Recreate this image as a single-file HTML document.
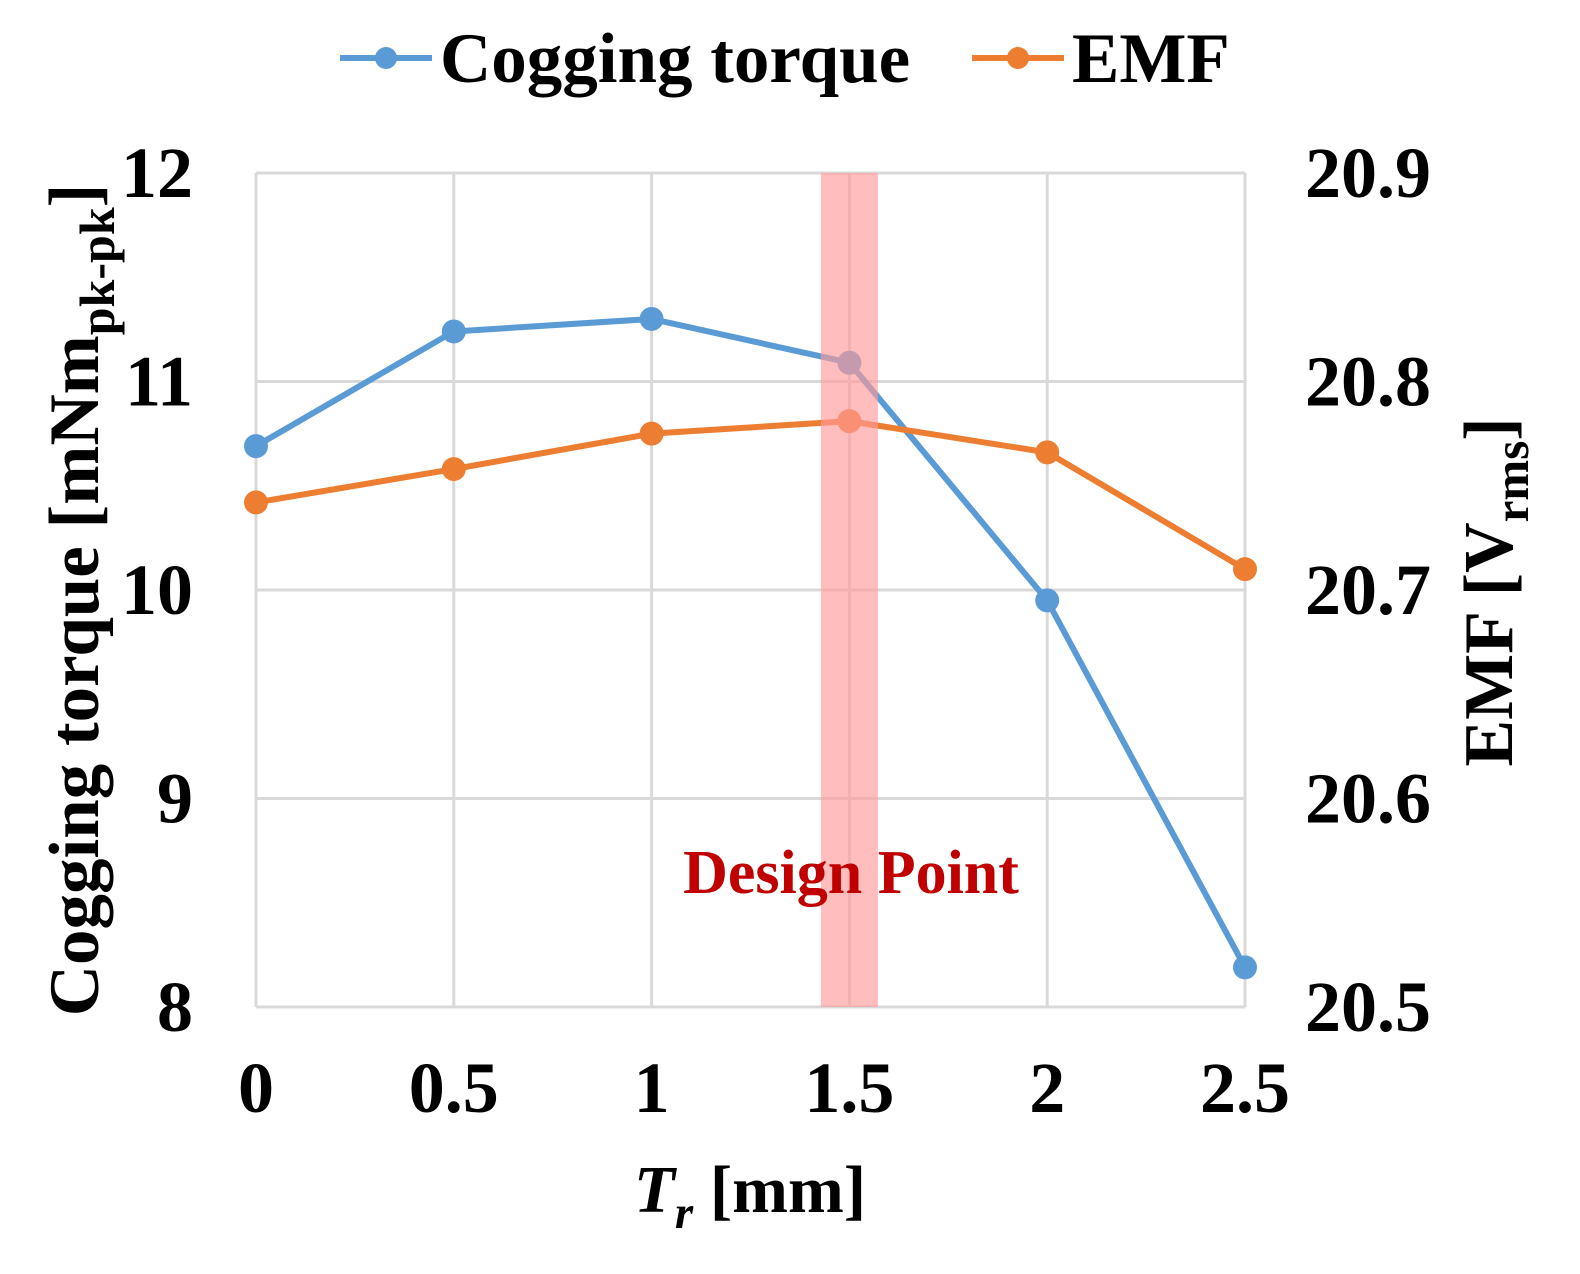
<!DOCTYPE html>
<html><head><meta charset="utf-8"><style>
html,body{margin:0;padding:0;background:#fff;}
svg{display:block;font-family:"Liberation Serif",serif;font-weight:bold;}
</style></head><body>
<svg id="chart" width="1580" height="1274" viewBox="0 0 1580 1274">
<g id="grid"></g>
<rect id="band" fill="#ff9a9a" fill-opacity="0.65"></rect>
<g id="series"></g>
<g id="ticks"></g>
<text x="851" y="893" font-size="62" fill="#c00000" text-anchor="middle">Design Point</text>
<text transform="translate(98,600) rotate(-90)" font-size="71" text-anchor="middle">Cogging torque [mNm<tspan font-size="50" dy="16">pk-pk</tspan><tspan dy="-16">]</tspan></text>
<text transform="translate(1512,592) rotate(-90)" font-size="70" text-anchor="middle">EMF [V<tspan font-size="49" dy="16">rms</tspan><tspan dy="-16">]</tspan></text>
<text x="750" y="1212" font-size="67" text-anchor="middle"><tspan font-style="italic">T<tspan font-size="47" dy="16">r</tspan></tspan><tspan dy="-16"> [mm]</tspan></text>
<g>
<line x1="340" y1="58" x2="432" y2="58" stroke="#5b9bd5" stroke-width="6"/>
<circle cx="386" cy="58" r="11" fill="#5b9bd5"/>
<text x="440" y="82" font-size="71">Cogging torque</text>
<line x1="972" y1="58" x2="1064" y2="58" stroke="#ed7d31" stroke-width="6"/>
<circle cx="1018" cy="58" r="11" fill="#ed7d31"/>
<text x="1072" y="82" font-size="71">EMF</text>
</g>
</svg>
<script>
const xCats=[0,0.5,1,1.5,2,2.5];
const xLabels=["0","0.5","1","1.5","2","2.5"];
const cogging=[10.69,11.24,11.30,11.09,9.95,8.19];
const emf=[20.742,20.758,20.775,20.781,20.766,20.710];
const leftTicks=[8,9,10,11,12];
const rightTicks=["20.5","20.6","20.7","20.8","20.9"];
const designX=1.5;
const X0=256,X1=1245,Y0=1007,Y1=173;
const xs=v=>X0+(v-0)/(2.5-0)*(X1-X0);
const yl=v=>Y0-(v-8)/(12-8)*(Y0-Y1);
const yr=v=>Y0-(v-20.5)/(20.9-20.5)*(Y0-Y1);
const NS="http://www.w3.org/2000/svg";
function mk(t,a,p){const e=document.createElementNS(NS,t);for(const k in a)e.setAttribute(k,a[k]);p.appendChild(e);return e;}
const grid=document.getElementById('grid'),ticks=document.getElementById('ticks'),ser=document.getElementById('series');
xCats.forEach((c,i)=>{
 const l=mk('line',{x1:xs(c),x2:xs(c),y1:Y1,y2:Y0,stroke:'#d9d9d9','stroke-width':3},grid);
 
 
 const t=mk('text',{x:xs(c),y:1112,'font-size':72,'text-anchor':'middle'},ticks);t.textContent=xLabels[i];
 
 
});
leftTicks.forEach((v,i)=>{
 const l=mk('line',{x1:X0,x2:X1,y1:yl(v),y2:yl(v),stroke:'#d9d9d9','stroke-width':3},grid);
 
 
 const t=mk('text',{x:193,y:yl(v)+24,'font-size':72,'text-anchor':'end'},ticks);t.textContent=v;
 
 
 const r=mk('text',{x:1305,y:yr(parseFloat(rightTicks[i]))+24,'font-size':72},ticks);r.textContent=rightTicks[i];
 
 
});
const band=document.getElementById('band');
const bw=57;
band.setAttribute('x',xs(designX)-bw/2);band.setAttribute('width',bw);band.setAttribute('y',Y1);band.setAttribute('height',Y0-Y1);
function draw(vals,yf,col,name){
 const pl=mk('polyline',{points:vals.map((v,i)=>xs(xCats[i])+','+yf(v)).join(' '),fill:'none',stroke:col,'stroke-width':6,'stroke-linejoin':'round'},ser);
 
 
 vals.forEach((v,i)=>{const c=mk('circle',{cx:xs(xCats[i]),cy:yf(v),r:12,fill:col},ser);
  
  });
}
draw(cogging,yl,'#5b9bd5','cogging');
draw(emf,yr,'#ed7d31','emf');
ser.parentNode.insertBefore(band,ser.nextSibling);
</script>
</body></html>
